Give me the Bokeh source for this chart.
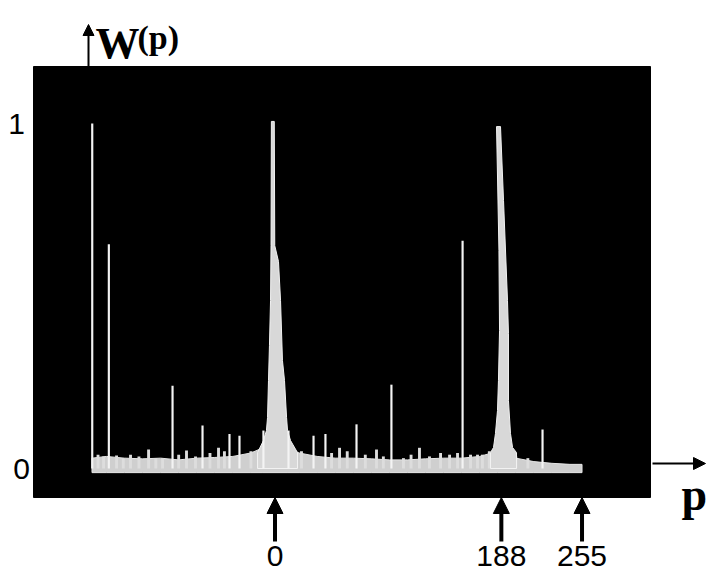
from bokeh.plotting import figure
from bokeh.models import Range1d, Arrow, NormalHead
from bokeh.core.properties import value
from bokeh.embed import file_html
from bokeh.resources import INLINE

# ---------------- data ----------------
# narrow spectral lines: position p and height W(p)
spike_p = [-151.8, -138.0, -85.1, -60.2, -37.8, -29.5, -9.6, 11.2, 32.0, 41.9,
           67.7, 96.7, 155.8, 222.2]
spike_w = [1.0, 0.65, 0.24, 0.125, 0.10, 0.095, 0.11, 0.11, 0.095, 0.10,
           0.128, 0.243, 0.66, 0.113]

# small bumps in the noise floor
bump_p = [-147.0, -142.4, -131.6, -126.0, -120.0, -113.0, -105.0, -99.0, -93.4,
          -80.0, -73.5, -66.0, -54.0, -46.9, -42.0, -20.0, 22.0, 47.0, 53.6, 60.0,
          75.0, 84.3, 90.0, 106.7, 113.0, 120.0, 128.3, 137.5, 145.0, 151.6, 162.4,
          168.2, 172.3, 178.0, 200.0, 210.0]
bump_w = [0.04, 0.035, 0.038, 0.03, 0.04, 0.035, 0.055, 0.03, 0.03,
          0.04, 0.052, 0.035, 0.045, 0.06, 0.05, 0.05, 0.05, 0.045, 0.06, 0.05,
          0.04, 0.055, 0.035, 0.03, 0.04, 0.06, 0.035, 0.045, 0.04, 0.045, 0.04,
          0.04, 0.04, 0.05, 0.035, 0.03]

# noise floor (top of the band)
floor_p = [-152, -140, -125, -110, -95, -80, -65, -50, -35, -20, -10, 0, 10, 20,
           35, 50, 65, 80, 95, 110, 125, 140, 155, 170, 185, 200, 215, 230, 245, 255]
floor_w = [0.03, 0.035, 0.03, 0.028, 0.03, 0.025, 0.03, 0.032, 0.035, 0.045,
           0.06, 0.07, 0.06, 0.045, 0.035, 0.03, 0.03, 0.028, 0.025, 0.025, 0.028,
           0.03, 0.03, 0.035, 0.05, 0.03, 0.02, 0.015, 0.012, 0.012]
floor_bottom = -0.012

# broad peak centred near p = 0 (outline)
peak0_p = [-14.5, -14.5, -9.6, -7.1, -6.2, -5.4, -4.6, -3.7, -3.3, -3.0, -0.6,
           -0.2, 2.9, 4.6, 6.2, 7.9, 9.6, 10.4, 12.9, 18.7, 18.7]
peak0_w = [0.0, 0.046, 0.081, 0.110, 0.148, 0.255, 0.357, 0.487, 0.646, 1.006,
           1.006, 0.646, 0.600, 0.487, 0.313, 0.255, 0.148, 0.110, 0.081, 0.046, 0.0]

# broad peak near p = 188 (outline)
peak188_p = [179.0, 179.0, 181.5, 183.1, 184.8, 185.6, 186.5, 186.0, 184.0, 187.3,
             189.8, 193.1, 193.9, 193.9, 195.6, 197.3, 200.6, 200.6]
peak188_w = [0.0, 0.046, 0.061, 0.101, 0.168, 0.255, 0.400, 0.632, 0.991, 0.991,
             0.777, 0.487, 0.391, 0.197, 0.101, 0.061, 0.046, 0.0]

x_ticks = [0, 188, 255]
x_tick_labels = ["0", "188", "255"]
y_ticks = [1, 0]
y_tick_labels = ["1", "0"]

# ---------------- layout helpers (page pixels -> data) ----------------
K = 1.204      # px per unit of p
X0 = 274.5     # page x of p = 0
S = 345.0      # px per unit of W
Y0 = 468.0     # page y of W = 0
W_FIG, H_FIG = 715, 571


def X(px):
    return (px - X0) / K


def Y(py):
    return (Y0 - py) / S


p = figure(width=W_FIG, height=H_FIG, output_backend="svg", toolbar_location=None,
           x_range=Range1d(X(0), X(W_FIG)), y_range=Range1d(Y(H_FIG), Y(0)),
           x_axis_location=None, y_axis_location=None, min_border=0)
p.outline_line_color = None
p.grid.visible = False
p.background_fill_color = "white"
p.border_fill_color = "white"

# black panel
p.quad(left=[X(33)], right=[X(650)], bottom=[Y(497)], top=[Y(66)],
       fill_color="black", line_color="black")

# noise floor band
fp = floor_p + floor_p[::-1]
fw = floor_w + [floor_bottom] * len(floor_p)
p.patch(fp, fw, fill_color="#cfcfcf", line_color="#e6e6e6", line_width=1)

# bumps
p.vbar(x=bump_p, top=bump_w, bottom=0, width=2.4, fill_color="#dddddd",
       line_color=None)

# broad peaks
p.patch(peak0_p, peak0_w, fill_color="#d8d8d8", line_color="#f2f2f2", line_width=1)
p.patch(peak188_p, peak188_w, fill_color="#d8d8d8", line_color="#f2f2f2", line_width=1)

# narrow lines
p.vbar(x=spike_p, top=spike_w, bottom=0, width=1.8, fill_color="#f4f4f4",
       line_color=None)

# ---------------- axis decorations ----------------
# vertical axis arrow with W(p)
p.add_layout(Arrow(x_start=X(88), y_start=Y(66), x_end=X(88), y_end=Y(24),
                   line_width=2, line_color="black",
                   end=NormalHead(size=11, fill_color="black", line_color="black")))
p.text(x=[X(95)], y=[Y(43)], text=["W"], text_font=value("Liberation Serif"),
       text_font_style="bold", text_font_size="44px", text_color="black",
       text_align="left", text_baseline="alphabetic")
p.text(x=[X(137)], y=[Y(37)], text=["(p)"], text_font=value("Liberation Serif"),
       text_font_style="bold", text_font_size="34px", text_color="black",
       text_align="left", text_baseline="alphabetic")

# horizontal axis arrow with p
p.add_layout(Arrow(x_start=X(652), y_start=Y(463), x_end=X(705), y_end=Y(463),
                   line_width=2, line_color="black",
                   end=NormalHead(size=12, fill_color="black", line_color="black")))
p.text(x=[X(681)], y=[Y(494)], text=["p"], text_font=value("Liberation Serif"),
       text_font_style="bold", text_font_size="46px", text_color="black",
       text_align="left", text_baseline="alphabetic")

# y tick labels
p.text(x=[X(16), X(21)], y=y_ticks, text=y_tick_labels,
       text_font=value("Liberation Sans"), text_font_size="30px", text_color="black",
       text_align="center", text_baseline="middle")

# x tick arrows and labels
for t in x_ticks:
    p.add_layout(Arrow(x_start=t, y_start=Y(541), x_end=t, y_end=Y(497),
                       line_width=4, line_color="black",
                       end=NormalHead(size=16, fill_color="black", line_color="black")))
p.text(x=x_ticks, y=[Y(555)] * len(x_ticks), text=x_tick_labels,
       text_font=value("Liberation Sans"), text_font_size="30px", text_color="black",
       text_align="center", text_baseline="middle")

open("out.html", "w").write(file_html(p, INLINE))
